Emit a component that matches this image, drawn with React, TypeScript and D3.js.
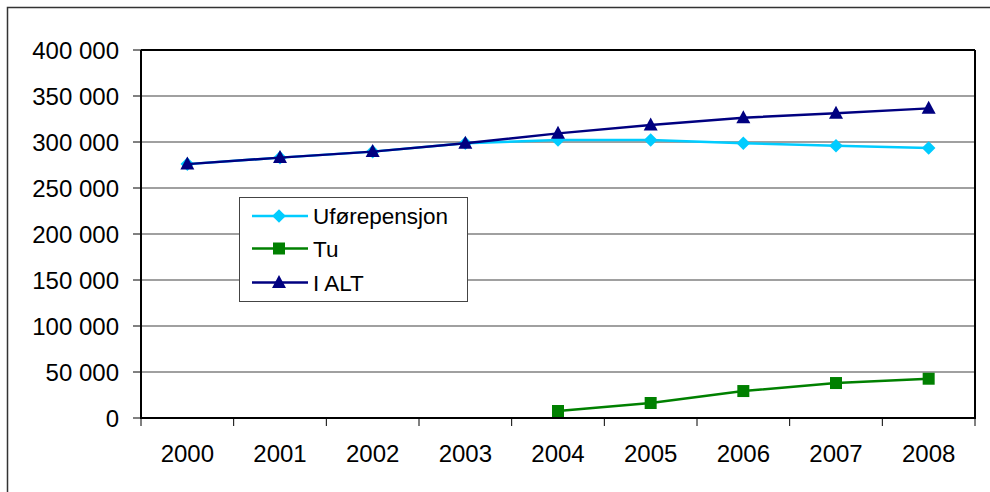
import React from "react";
import * as d3 from "d3";

const years = ["2000", "2001", "2002", "2003", "2004", "2005", "2006", "2007", "2008"];
const uforepensjon = [276000, 283000, 289500, 298600, 302200, 302200, 298600, 296000, 293500];
const tu: (number | null)[] = [null, null, null, null, 7600, 16300, 29300, 38000, 42700];
const iAlt = [276000, 283000, 289500, 298600, 309400, 318500, 326400, 331200, 336600];
const yTicks = [0, 50000, 100000, 150000, 200000, 250000, 300000, 350000, 400000];

const W = 990, H = 492;
const L = 141, R = 975, T = 50, B = 418;
const FONT = "'Liberation Sans', Arial, sans-serif";

const x = d3.scaleBand<string>().domain(years).range([L, R]);
const y = d3.scaleLinear().domain([0, 400000]).range([B, T]);
const fmt = (v: number) => d3.format(",")(v).replace(/,/g, " ");

type S = { name: string; values: (number | null)[]; color: string; marker: string };
const series: S[] = [
  { name: "Uførepensjon", values: uforepensjon, color: "#00CCFF", marker: "diamond" },
  { name: "Tu", values: tu, color: "#008000", marker: "square" },
  { name: "I ALT", values: iAlt, color: "#000080", marker: "triangle" },
];

function Marker({ kind, cx, cy, color }: { kind: string; cx: number; cy: number; color: string }) {
  if (kind === "diamond") {
    const r = 6.8;
    return <path d={`M${cx},${cy - r}L${cx + r},${cy}L${cx},${cy + r}L${cx - r},${cy}Z`} fill={color} />;
  }
  if (kind === "square") {
    const r = 6;
    return <rect x={cx - r} y={cy - r} width={2 * r} height={2 * r} fill={color} />;
  }
  const w = 7, h = 13;
  return <path d={`M${cx},${cy - h * 0.58}L${cx + w},${cy + h * 0.42}L${cx - w},${cy + h * 0.42}Z`} fill={color} />;
}

export default function App() {
  const line = d3
    .line<number | null>()
    .defined((d) => d !== null)
    .x((_, i) => (x(years[i]) as number) + x.bandwidth() / 2)
    .y((d) => y(d as number));
  const legendRows = [216, 248.5, 282.5];
  return (
    <svg width={W} height={H} style={{ position: "absolute", left: 0, top: 0, background: "#fff" }} fontFamily={FONT}>
      <rect x={7.5} y={7.5} width={1000} height={1000} fill="#fff" stroke="#333" strokeWidth={1.5} />
      {yTicks.map((t) => (
        <g key={t}>
          {t > 0 && t < 400000 && <line x1={L} x2={R} y1={y(t)} y2={y(t)} stroke="#808080" strokeWidth={1.5} />}
          <line x1={L - 8} x2={L} y1={y(t)} y2={y(t)} stroke="#000" strokeWidth={1} />
          <text x={119} y={y(t)} dy="0.36em" textAnchor="end" fontSize={24} fill="#000">
            {fmt(t)}
          </text>
        </g>
      ))}
      <line x1={L} x2={R} y1={T} y2={T} stroke="#000" strokeWidth={2} />
      <line x1={R} x2={R} y1={T} y2={B} stroke="#000" strokeWidth={2} />
      <line x1={L} x2={L} y1={T} y2={B + 1} stroke="#000" strokeWidth={2} />
      <line x1={L} x2={R + 1} y1={B} y2={B} stroke="#000" strokeWidth={2} />
      {years.map((yr) => (
        <line key={"t" + yr} x1={x(yr) as number} x2={x(yr) as number} y1={B} y2={B + 8} stroke="#000" strokeWidth={1} />
      ))}
      <line x1={R} x2={R} y1={B} y2={B + 8} stroke="#000" strokeWidth={1} />
      {years.map((yr) => (
        <text key={yr} x={(x(yr) as number) + x.bandwidth() / 2} y={461.5} textAnchor="middle" fontSize={24} fill="#000">
          {yr}
        </text>
      ))}
      {series.map((s) => (
        <g key={s.name}>
          <path d={line(s.values) || ""} fill="none" stroke={s.color} strokeWidth={2.4} />
          {s.values.map((v, i) =>
            v === null ? null : (
              <Marker key={i} kind={s.marker} cx={(x(years[i]) as number) + x.bandwidth() / 2} cy={y(v)} color={s.color} />
            )
          )}
        </g>
      ))}
      <rect x={239.5} y={197.5} width={228} height={104} fill="#fff" stroke="#444" strokeWidth={1} />
      {series.map((s, i) => (
        <g key={"lg" + s.name}>
          <line x1={252} x2={308} y1={legendRows[i]} y2={legendRows[i]} stroke={s.color} strokeWidth={2.4} />
          <Marker kind={s.marker} cx={279} cy={legendRows[i]} color={s.color} />
          <text x={313} y={legendRows[i]} dy="0.36em" fontSize={22.5} fill="#000">
            {s.name}
          </text>
        </g>
      ))}
    </svg>
  );
}
